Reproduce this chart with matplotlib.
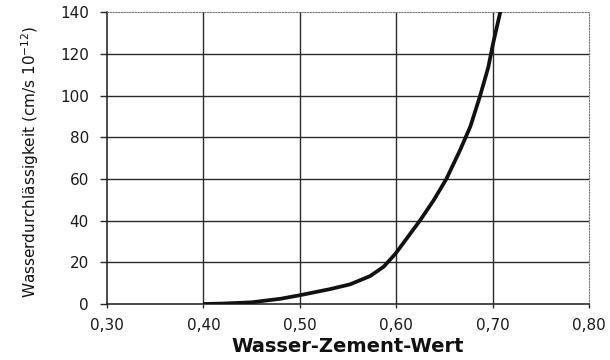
import matplotlib.pyplot as plt

# Water-cement ratio vs. water permeability
wz_wert = [0.40, 0.42, 0.45, 0.48, 0.50, 0.531, 0.552, 0.573, 0.587, 0.599,
           0.611, 0.625, 0.639, 0.652, 0.666, 0.677, 0.687, 0.6955, 0.7007,
           0.7077, 0.709]
durchlaessigkeit = [0.0, 0.2, 0.8, 2.5, 4.2, 7.1, 9.4, 13.4, 17.9, 24.0,
                    31.5, 40.3, 49.9, 60.0, 73.6, 85.3, 99.9, 113.6, 125.5,
                    139.6, 142.0]

x_ticks = [0.30, 0.40, 0.50, 0.60, 0.70, 0.80]
x_labels = ["0,30", "0,40", "0,50", "0,60", "0,70", "0,80"]
y_ticks = [0, 20, 40, 60, 80, 100, 120, 140]

fig = plt.figure(figsize=(6.1, 3.6), dpi=100)
ax = fig.add_axes([0.1754, 0.1556, 0.7902, 0.8102])
ax.set_xlim(0.30, 0.80)
ax.set_ylim(0, 140)

ax.set_xticks(x_ticks)
ax.set_xticklabels(x_labels)
ax.set_yticks(y_ticks)

# inner grid lines
for y in y_ticks[1:-1]:
    ax.axhline(y, color="#2a2a2a", lw=1.0, zorder=1)
for x in x_ticks[1:-1]:
    ax.axvline(x, color="#2a2a2a", lw=1.0, zorder=1)

ax.plot(wz_wert, durchlaessigkeit, color="#111111", lw=2.7,
        solid_capstyle="butt", solid_joinstyle="round", zorder=3)

for side in ("top", "right"):
    ax.spines[side].set_linestyle((0, (1, 1.5)))
    ax.spines[side].set_color("#777777")
    ax.spines[side].set_linewidth(0.8)
for side in ("left", "bottom"):
    ax.spines[side].set_color("#1a1a1a")
    ax.spines[side].set_linewidth(1.1)

ax.tick_params(axis="y", direction="out", length=5, width=1.0,
               color="#2a2a2a", pad=8, labelsize=11, labelcolor="#1a1a1a")
ax.tick_params(axis="x", direction="out", length=3, width=1.0,
               color="#2a2a2a", pad=7, labelsize=11, labelcolor="#1a1a1a")
for lab in ax.get_xticklabels() + ax.get_yticklabels():
    lab.set_family(["DejaVu Sans"])

ax.set_xlabel("Wasser-Zement-Wert", fontsize=14, fontweight="bold",
              family=["DejaVu Sans"], color="#111111", labelpad=3)
ax.set_ylabel("Wasserdurchlässigkeit (cm/s 10$^{-12}$)", fontsize=11,
              family=["DejaVu Sans"], color="#111111")
ax.yaxis.set_label_coords(-0.137, 0.487)

fig.savefig("out.png", dpi=100, facecolor="white")
